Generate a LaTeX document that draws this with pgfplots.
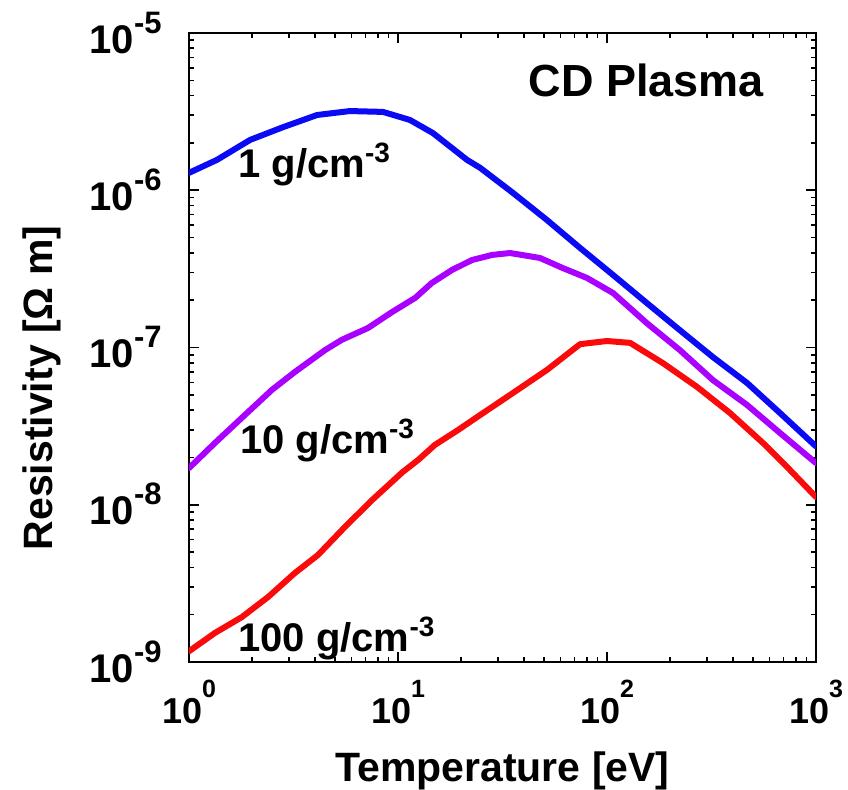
\documentclass[border=0pt]{standalone}
\usepackage{fontspec}
\setmainfont{Liberation Sans}
\usepackage{pgfplots}
\pgfplotsset{compat=1.18}
\definecolor{lineblue}{RGB}{10,10,245}
\definecolor{linepurple}{RGB}{170,0,255}
\definecolor{linered}{RGB}{250,10,10}
% tick labels: 10 with a raised exponent
\newcommand{\xtl}[1]{10\raisebox{13pt}{\fontsize{12.5}{13}\selectfont #1}}
\newcommand{\ytl}[1]{10\raisebox{10pt}{\fontsize{15.5}{16}\selectfont #1}}

\begin{document}
\begin{tikzpicture}
  \path[use as bounding box] (-94.5pt,-64pt) rectangle (329.5pt,331pt);
  \begin{axis}[
      scale only axis, width=313.5pt, height=314.5pt,
      xmode=log, ymode=log,
      xmin=1, xmax=1000, ymin=1e-9, ymax=1e-5,
      font=\bfseries,
      xtick={1,10,100,1000},
      xticklabels={\xtl{0},\xtl{1},\xtl{2},\xtl{3}},
      ytick={1e-9,1e-8,1e-7,1e-6,1e-5},
      yticklabels={\ytl{-9},\ytl{-8},\ytl{-7},\ytl{-6},\ytl{-5}},
      xticklabel style={anchor=base, inner sep=0pt, yshift=-30.5pt, font=\bfseries\fontsize{18}{20}\selectfont},
      yticklabel style={anchor=base east, inner sep=0pt, xshift=-13.5pt, yshift=-10pt, font=\bfseries\fontsize{20}{22}\selectfont},
      major tick length=5pt, minor tick length=2.5pt,
      every tick/.style={black, line width=0.8pt},
      axis line style={line width=1pt},
      xlabel={Temperature [eV]},
      ylabel={Resistivity [Ω m]},
      every axis x label/.style={at={(axis description cs:0.5,-0.1733)}, anchor=center, font=\bfseries\fontsize{20.5}{24}\selectfont},
      every axis y label/.style={at={(axis description cs:-0.2344,0.4356)}, rotate=90, anchor=center, font=\bfseries\fontsize{20.5}{24}\selectfont},
      every axis plot/.append style={line width=3pt, line join=round, line cap=round},
      clip=true,
    ]
    % 1 g/cm^3
    \addplot[lineblue] coordinates {
      (1,1.29e-6) (1.36,1.56e-6) (1.96,2.09e-6) (2.82,2.52e-6) (4.10,3.01e-6)
      (5.89,3.19e-6) (8.48,3.15e-6) (11.4,2.80e-6) (14.7,2.31e-6) (21.4,1.56e-6)
      (24.7,1.39e-6) (35.5,9.62e-7) (51.6,6.47e-7) (74.3,4.30e-7) (107,2.89e-7)
      (155,1.92e-7) (223,1.29e-7) (321,8.70e-8) (468,5.95e-8) (673,3.83e-8)
      (1000,2.35e-8)
    };
    % 10 g/cm^3
    \addplot[linepurple] coordinates {
      (1,1.71e-8) (1.33,2.47e-8) (1.85,3.72e-8) (2.49,5.37e-8) (3.21,6.99e-8)
      (4.48,9.64e-8) (5.39,1.12e-7) (7.18,1.33e-7) (9.36,1.68e-7) (12.1,2.07e-7)
      (14.5,2.57e-7) (18.1,3.11e-7) (22.6,3.60e-7) (28.2,3.88e-7) (34.4,3.99e-7)
      (47.8,3.71e-7) (61.5,3.20e-7) (80.2,2.77e-7) (107,2.22e-7) (155,1.43e-7)
      (223,9.64e-8) (321,6.21e-8) (468,4.31e-8) (673,2.86e-8) (1000,1.84e-8)
    };
    % 100 g/cm^3
    \addplot[linered] coordinates {
      (1,1.17e-9) (1.33,1.53e-9) (1.79,1.93e-9) (2.39,2.59e-9) (3.21,3.68e-9)
      (4.14,4.79e-9) (5.57,7.22e-9) (7.51,1.07e-8) (10.5,1.61e-8) (12.5,1.93e-8)
      (15.0,2.40e-8) (19.4,2.99e-8) (24.7,3.72e-8) (35.5,5.14e-8) (51.6,7.20e-8)
      (74.3,1.05e-7) (100,1.10e-7) (129,1.07e-7) (185,7.97e-8) (270,5.61e-8)
      (388,3.83e-8) (558,2.47e-8) (727,1.74e-8) (1000,1.12e-8)
    };
    \node[anchor=base west, inner sep=0pt, font=\bfseries\fontsize{22.5}{26}\selectfont]
      at (rel axis cs:0.541,0.899) {CD Plasma};
    \node[anchor=base west, inner sep=0pt, font=\bfseries\fontsize{20}{24}\selectfont]
      at (rel axis cs:0.078,0.7695) {1 g/cm\textsuperscript{-3}};
    \node[anchor=base west, inner sep=0pt, font=\bfseries\fontsize{20}{24}\selectfont]
      at (rel axis cs:0.081,0.332) {10 g/cm\textsuperscript{-3}};
    \node[anchor=base west, inner sep=0pt, font=\bfseries\fontsize{20}{24}\selectfont]
      at (rel axis cs:0.078,0.016) {100 g/cm\textsuperscript{-3}};
  \end{axis}
\end{tikzpicture}
\end{document}
